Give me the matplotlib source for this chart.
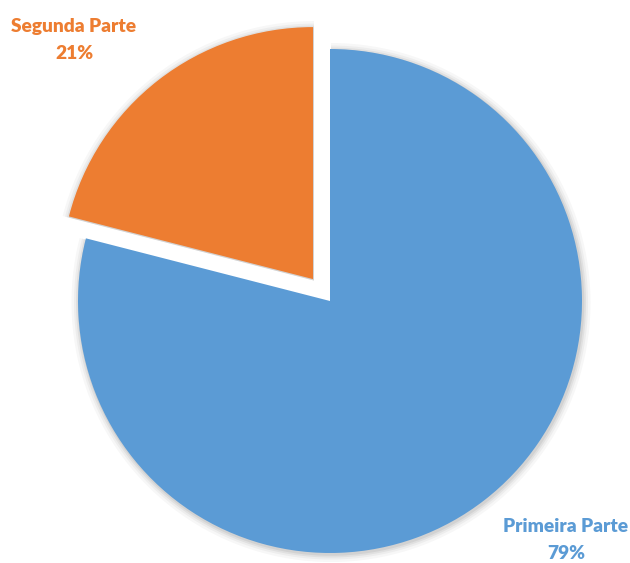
import matplotlib.pyplot as plt

partes = ["Primeira Parte", "Segunda Parte"]
percentuais = [79, 21]
cores = ["#5B9BD5", "#ED7D31"]

plt.rcParams['font.family'] = ['Lato', 'DejaVu Sans']

fig = plt.figure(figsize=(6.3, 5.63), dpi=100)
ax = fig.add_axes([0, 0, 1, 1])

# centro em (330, 301) px, raio 252 px
r = 252.0
ax.axis('off')

explode = [0, 0.11]

# sombra suave por baixo das fatias
for k, a in [(1.030, 0.03), (1.020, 0.04), (1.012, 0.05), (1.005, 0.06)]:
    ax.pie(percentuais, explode=explode, startangle=90, counterclock=False,
           radius=k, colors=["#000000"] * 2,
           wedgeprops=dict(alpha=a, linewidth=0), center=(0.004, -0.006))

ax.pie(percentuais, explode=explode, startangle=90, counterclock=False,
       colors=cores, wedgeprops=dict(linewidth=0))

ax.set_xlim(-330 / r, 300 / r)
ax.set_ylim(-262 / r, 301 / r)
ax.set_aspect('auto')

rotulo = dict(ha='center', va='center', fontsize=13.8, fontweight='heavy',
              linespacing=1.65)
ax.text(-256 / r, 261 / r, f"{partes[1]}\n{percentuais[1]}%", color=cores[1],
        **rotulo)
ax.text(236 / r, -239 / r, f"{partes[0]}\n{percentuais[0]}%", color=cores[0],
        **rotulo)

fig.savefig("out.png", dpi=100)
